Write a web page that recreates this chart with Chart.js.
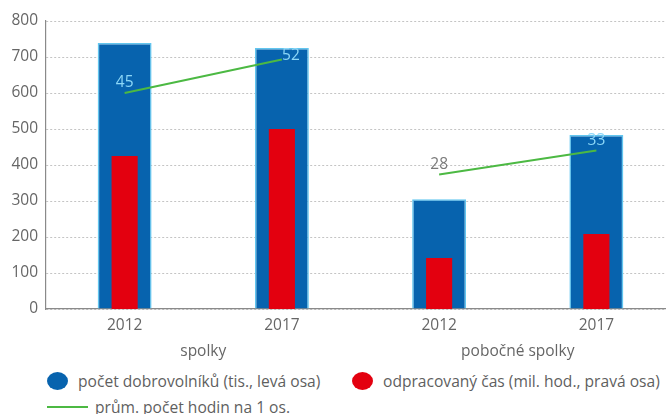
<!DOCTYPE html>
<html lang="cs">
<head>
<meta charset="utf-8">
<script src="https://cdn.jsdelivr.net/npm/chart.js@4.4.1/dist/chart.umd.min.js"></script>
<style>
  html, body { margin: 0; padding: 0; background: #fff; overflow: hidden; }
  #wrap { position: relative; width: 666px; height: 414px; overflow: hidden; font-family: "Open Sans", sans-serif; }
  #chart { position: absolute; left: 0; top: 0; }
  .legend-item { position: absolute; font-size: 15.6px; color: #5f5f5f; white-space: nowrap; line-height: 20px; display: flex; align-items: center; }
  .swatch { display: inline-block; }
  .swatch.dot { width: 21px; height: 18px; border-radius: 50%; margin-right: 10px; }
  .swatch.line { width: 41px; height: 2px; margin-right: 7px; }
</style>
</head>
<body>
<div id="wrap">
  <canvas id="chart" width="676" height="362"></canvas>
  <div id="legend"></div>
</div>
<script>
// categories and groups on the x axis
const categories = ['2012', '2017', '2012', '2017'];
const groups = ['spolky', 'pobočné spolky'];

// počet dobrovolníků, tis. (left axis)
const volunteers = [739, 725, 305, 483];
// odpracovaný čas, mil. hod. (right axis, hidden)
const hoursWorked = [31.9, 37.5, 10.6, 15.6];
// průměrný počet hodin na 1 osobu, one segment per group
const avgHoursSpolky = [45, 52, null, null];
const avgHoursPobocne = [null, null, 28, 33];

const BLUE = '#0763ae';
const RED = '#e3000f';
const GREEN = '#4cb943';
const FONT = '"Open Sans", sans-serif';

// prints the average-hours values next to the line ends
const valueLabels = {
  id: 'valueLabels',
  afterDatasetsDraw(chart) {
    const ctx = chart.ctx;
    const bars = chart.getDatasetMeta(0).data;
    ctx.save();
    ctx.font = '15.5px ' + FONT;
    ctx.textAlign = 'center';
    ctx.textBaseline = 'middle';
    chart.data.datasets.forEach((ds, di) => {
      if (ds.type !== 'line') return;
      chart.getDatasetMeta(di).data.forEach((pt, i) => {
        const v = ds.data[i];
        if (v == null) return;
        const dx = i === 1 ? 9 : 0;
        const dy = i === 1 ? -4 : -10;
        const x = pt.x + dx, y = pt.y + dy;
        ctx.fillStyle = y > bars[i].y ? '#8cd7f7' : '#7a7a7a';
        ctx.fillText(String(v), x, y);
      });
    });
    ctx.restore();
  }
};

const chart = new Chart(document.getElementById('chart'), {
  data: {
    labels: categories,
    datasets: [
      {
        type: 'bar',
        label: 'počet dobrovolníků (tis., levá osa)',
        data: volunteers,
        yAxisID: 'y',
        backgroundColor: BLUE,
        borderColor: '#62c6ef',
        borderWidth: { left: 1.5, right: 1.5, top: 1.5, bottom: 0 },
        borderSkipped: false,
        grouped: false,
        barPercentage: 0.343,
        categoryPercentage: 1,
        order: 3
      },
      {
        type: 'bar',
        label: 'odpracovaný čas (mil. hod., pravá osa)',
        data: hoursWorked,
        yAxisID: 'y1',
        backgroundColor: RED,
        borderWidth: 0,
        grouped: false,
        barPercentage: 0.166,
        categoryPercentage: 1,
        order: 2
      },
      {
        type: 'line',
        label: 'prům. počet hodin na 1 os.',
        data: avgHoursSpolky,
        yAxisID: 'y1',
        borderColor: GREEN,
        borderWidth: 2,
        pointRadius: 0,
        spanGaps: false,
        order: 1
      },
      {
        type: 'line',
        label: 'prům. počet hodin na 1 os.',
        data: avgHoursPobocne,
        yAxisID: 'y1',
        borderColor: GREEN,
        borderWidth: 2,
        pointRadius: 0,
        spanGaps: false,
        order: 1,
        noLegend: true
      }
    ]
  },
  options: {
    responsive: false,
    animation: false,
    events: [],
    layout: { padding: { top: 21, left: 0, right: 1, bottom: 0 } },
    plugins: {
      legend: { display: false },
      tooltip: { enabled: false }
    },
    scales: {
      x: {
        position: 'bottom',
        offset: true,
        grid: { display: false, drawTicks: false },
        border: { display: true, color: '#8a8a8a', width: 1.2 },
        ticks: { color: '#666', padding: 7, font: { family: FONT, size: 15.5 } },
        afterFit: s => { s.height = 26; }
      },
      x2: {
        type: 'category',
        position: 'bottom',
        labels: groups,
        offset: true,
        grid: { display: false, drawTicks: false },
        border: { display: false },
        ticks: { color: '#666', padding: 7, font: { family: FONT, size: 15.5 } },
        afterFit: s => { s.height = 27; }
      },
      y: {
        min: 0,
        max: 800,
        ticks: { stepSize: 100, color: '#666', padding: 8, font: { family: FONT, size: 15.5 } },
        grid: { color: '#c4c4c4', lineWidth: 1, drawTicks: false },
        border: { display: true, color: '#8a8a8a', width: 1.2, dash: [2, 2] },
        afterFit: s => { s.width = 46; }
      },
      y1: {
        display: false,
        min: 0,
        max: 60
      }
    }
  },
  plugins: [valueLabels]
});

// legend below the chart, built from the datasets
const legendSpots = [
  { left: 47, top: 371 },
  { left: 352, top: 371 },
  { left: 47, top: 397 }
];
const legendEl = document.getElementById('legend');
chart.data.datasets.filter(ds => !ds.noLegend).forEach((ds, i) => {
  const item = document.createElement('div');
  item.className = 'legend-item';
  item.style.left = legendSpots[i].left + 'px';
  item.style.top = legendSpots[i].top + 'px';
  const sw = document.createElement('span');
  if (ds.type === 'line') {
    sw.className = 'swatch line';
    sw.style.background = ds.borderColor;
  } else {
    sw.className = 'swatch dot';
    sw.style.background = ds.backgroundColor;
  }
  item.appendChild(sw);
  item.appendChild(document.createTextNode(ds.label));
  legendEl.appendChild(item);
});
</script>
</body>
</html>
